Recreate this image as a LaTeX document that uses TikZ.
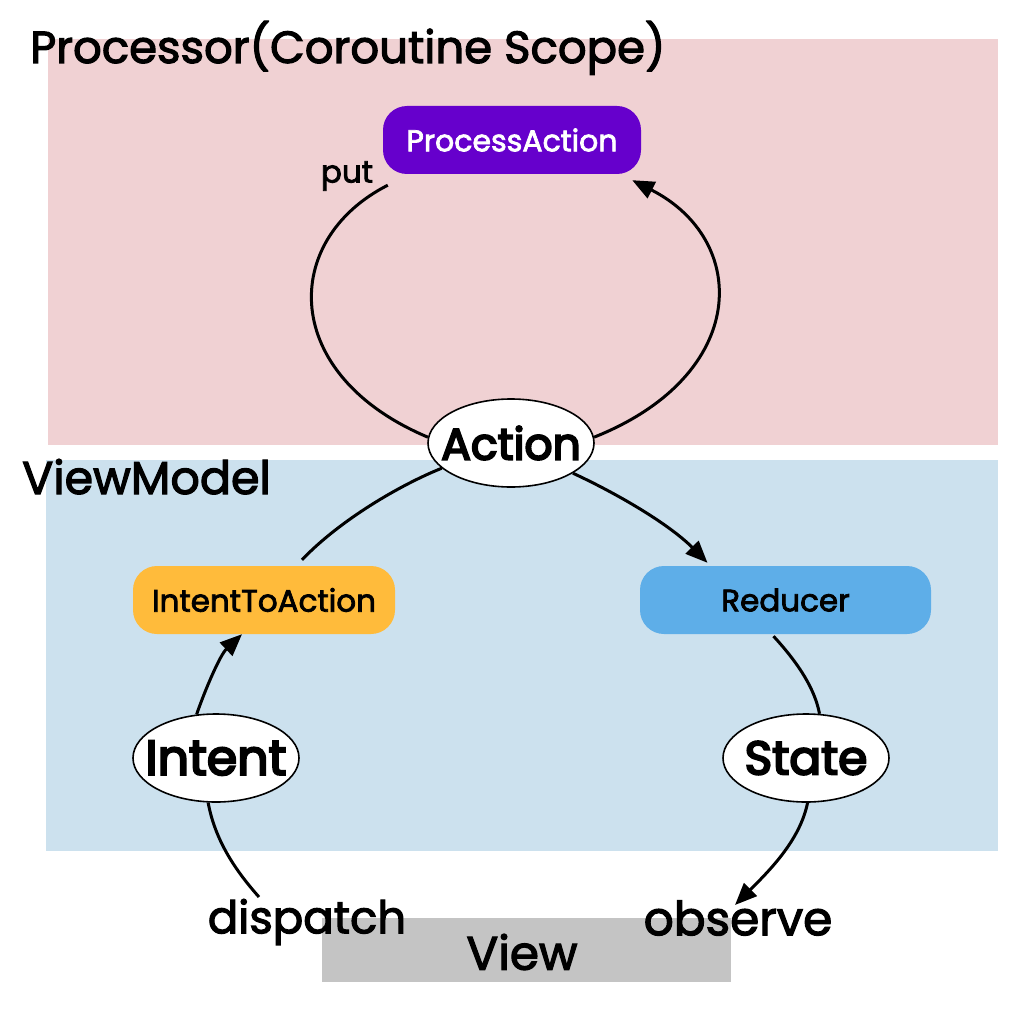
\documentclass[tikz,border=0pt]{standalone}
\usepackage{fontspec}
\setmainfont{Poppins}[FakeBold=2.5]
\newfontfamily\semib[FakeBold=4.5]{Poppins}
\usetikzlibrary{arrows.meta,calc,shapes.geometric}
\definecolor{pinkbg}{HTML}{F0D1D3}
\definecolor{bluebg}{HTML}{CCE1EE}
\definecolor{purp}{HTML}{6600CC}
\definecolor{orng}{HTML}{FFBB3B}
\definecolor{redu}{HTML}{5EAEE8}
\definecolor{viewg}{HTML}{C4C4C4}
\newcommand{\fs}[1]{\fontsize{#1}{#1}\selectfont}
\tikzset{
  pill/.style={rounded corners=24pt, minimum height=68pt, inner sep=0pt, anchor=center},
  oval/.style={ellipse, draw=black, line width=1.6pt, fill=white, inner sep=0pt, minimum width=166pt, minimum height=88pt},
  conn/.style={line width=3pt, draw=black},
  arr/.style={conn, -{Triangle[length=22pt,width=18pt]}},
  lbl/.style={inner sep=0pt}
}
\begin{document}
\begin{tikzpicture}[x=1pt,y=-1pt]
\useasboundingbox (0,0) rectangle (1024,1024);
\fill[white] (0,0) rectangle (1024,1024);
% regions
\fill[pinkbg] (48,39) rectangle (998,445);
\fill[bluebg] (46,460) rectangle (998,851);
\fill[viewg] (322,918) rectangle (731,982);
\node[lbl, anchor=base west, font=\fs{45}] (ttl) at (30,63) {Processor(Coroutine Scope)};
\node[lbl, anchor=base west, font=\fs{46}] (vm) at (22,494) {ViewModel};
\node[lbl, anchor=center, font=\fs{47}] (view) at (522,952) {View};
% pills
\node[pill, fill=purp, minimum width=258pt, text=white, font=\fs{30}] (pa) at (512,140) {ProcessAction};
\node[pill, fill=orng, minimum width=262pt, font=\fs{31}] (ita) at (264,600) {IntentToAction};
\node[pill, fill=redu, minimum width=291pt, font=\fs{31}] (red) at (785.5,600) {Reducer};
% ovals
\node[oval, font=\semib\fs{44}] (act) at (511,443) {\makebox[0pt]{Action}};
\node[oval, font=\semib\fs{49}] (int) at (216,758) {\makebox[0pt]{Intent}};
\node[oval, font=\semib\fs{47}] (st) at (806,758) {\makebox[0pt]{State}};
% labels
\node[lbl, font=\fs{31}, anchor=center] (put) at (347,176) {put};
\node[lbl, font=\fs{45}, anchor=center] (disp) at (307,922) {dispatch};
\node[lbl, font=\fs{47}, anchor=center] (obs) at (738,918) {observe};
\coordinate (dend) at (259,897);
\coordinate (oend) at (735,905);
% connectors
\draw[conn] ($(pa.south west)+(5,11)$) .. controls (280,240) and (280,375) .. (act.176);
\draw[arr] (act.4) .. controls (750,375) and (750,240) .. ($(pa.south east)+(-9,6)$);
\draw[conn] (act.200) .. controls (400,485) and (340,520) .. ($(ita.north)+(38,-6)$);
\draw[arr] (act.-26) .. controls (620,495) and (670,525) .. ($(red.north)+(-78,-3)$);
\draw[arr] (int.114) .. controls (205,690) and (220,655) .. ($(ita.south)+(-22,0)$);
\draw[conn] ($(red.south)+(-12,2)$) .. controls (800,665) and (815,690) .. (st.73);
\draw[conn] (int.260) .. controls (215,840) and (235,870) .. (dend);
\draw[arr] (st.272) .. controls (800,840) and (770,870) .. (oend);
\end{tikzpicture}
\end{document}
